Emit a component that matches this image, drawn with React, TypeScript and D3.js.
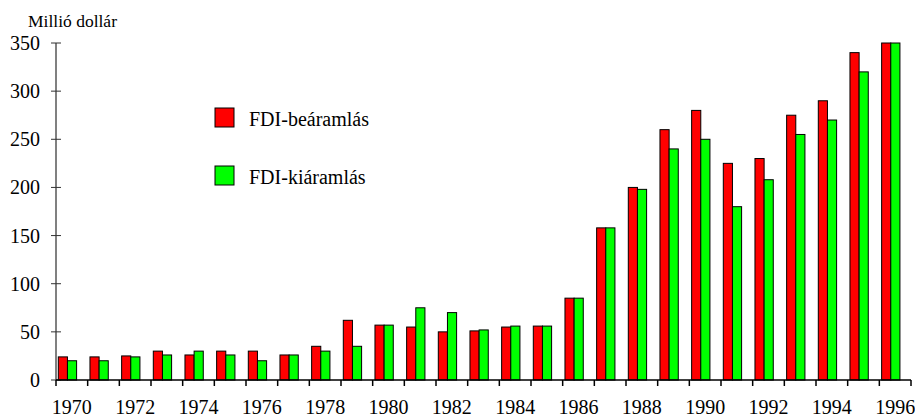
import React from "react";
import * as d3 from "d3";

const years = d3.range(1970, 1997).map(String);
const inflow = [24, 24, 25, 30, 26, 30, 30, 26, 35, 62, 57, 55, 50, 51, 55, 56, 85, 158, 200, 260, 280, 225, 230, 275, 290, 340, 350];
const outflow = [20, 20, 24, 26, 30, 26, 20, 26, 30, 35, 57, 75, 70, 52, 56, 56, 85, 158, 198, 240, 250, 180, 208, 255, 270, 320, 350];
const yTicks = [0, 50, 100, 150, 200, 250, 300, 350];
const seriesNames = ["FDI-beáramlás", "FDI-kiáramlás"];
const colors = ["#ff0000", "#00ff00"];

const W = 915;
const H = 417;
const left = 56;
const right = 911;
const top = 43;
const bottom = 380;
const font = "Liberation Serif, Times New Roman, Times, DejaVu Serif, serif";

export default function App() {
  const x = d3.scaleBand<string>().domain(years).range([left, right]);
  const inner = d3.scaleBand<string>().domain(["in", "out"]).range([2.3, 20.6]);
  const y = d3.scaleLinear().domain([0, 350]).range([bottom, top]);
  const series = [inflow, outflow];

  return (
    <svg
      width={W}
      height={H}
      style={{ position: "absolute", left: 0, top: 0, background: "#fff", fontFamily: font }}
    >
      <text x={28} y={26.5} fontSize={17.5} fill="#000">Millió dollár</text>

      {/* bars */}
      {series.map((vals, s) =>
        vals.map((v, i) => (
          <rect
            key={`${s}-${i}`}
            x={(x(years[i]) ?? 0) + (inner(s === 0 ? "in" : "out") ?? 0)}
            y={y(v)}
            width={inner.bandwidth()}
            height={bottom - y(v)}
            fill={colors[s]}
            stroke="#000"
            strokeWidth={1}
          />
        ))
      )}

      {/* y axis */}
      <line x1={left} x2={left} y1={top} y2={bottom} stroke="#808080" strokeWidth={2} />
      {yTicks.map((t) => (
        <g key={t}>
          <line x1={51} x2={61} y1={y(t)} y2={y(t)} stroke="#333" strokeWidth={1} />
          <text x={40} y={y(t)} dy="0.35em" textAnchor="end" fontSize={20} fill="#000">
            {t}
          </text>
        </g>
      ))}

      {/* x axis */}
      <line x1={left} x2={right} y1={bottom} y2={bottom} stroke="#000" strokeWidth={1.5} />
      {[...years, "end"].map((yr, i) => {
        const px = i < years.length ? x(yr) ?? 0 : right;
        return <line key={yr} x1={px} x2={px} y1={bottom} y2={386} stroke="#000" strokeWidth={1.5} />;
      })}
      {years
        .filter((_, i) => i % 2 === 0)
        .map((yr) => (
          <text
            key={yr}
            x={(x(yr) ?? 0) + x.bandwidth() / 2}
            y={414}
            textAnchor="middle"
            fontSize={20}
            fill="#000"
          >
            {yr}
          </text>
        ))}

      {/* legend */}
      {seriesNames.map((name, i) => (
        <g key={name} transform={`translate(215,${108 + i * 58})`}>
          <rect x={0} y={0} width={19} height={19} fill={colors[i]} stroke="#000" strokeWidth={1} />
          <text x={34} y={18} fontSize={20} fill="#000">{name}</text>
        </g>
      ))}
    </svg>
  );
}
